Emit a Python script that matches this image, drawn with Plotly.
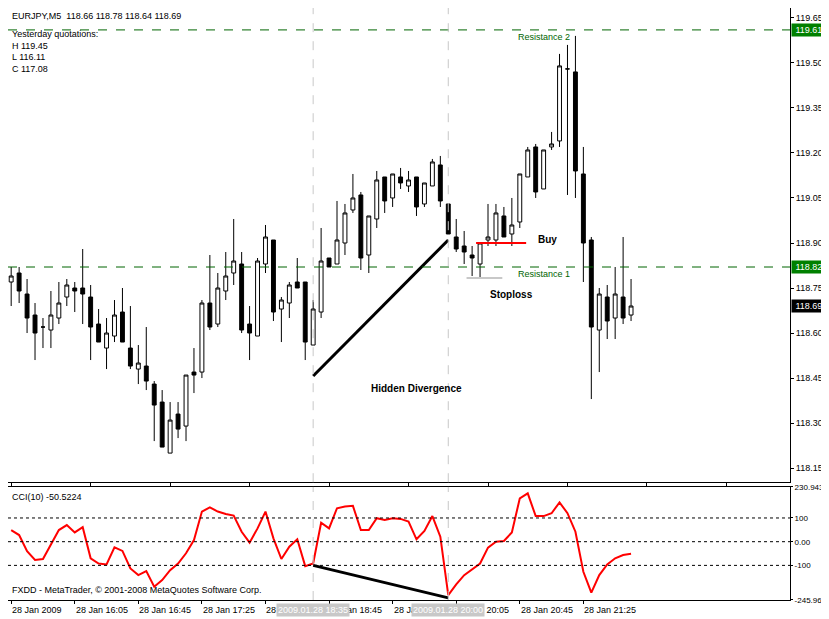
import plotly.graph_objects as go

# EURJPY M5 bars, 15:25 .. 21:55 on 28 Jan 2009
opens = [118.77, 118.80, 118.73, 118.66, 118.62, 118.61, 118.65, 118.72, 118.75, 118.75,
         118.72, 118.63, 118.55, 118.59, 118.67, 118.55, 118.48, 118.49, 118.43, 118.37,
         118.20, 118.33, 118.29, 118.47, 118.47, 118.70, 118.63, 118.74, 118.80, 118.83,
         118.63, 118.59, 118.83, 118.91, 118.68, 118.70, 118.77, 118.77, 118.56, 118.67,
         118.85, 118.83, 118.90, 119.01, 119.06, 118.86, 118.98, 119.12, 119.05, 119.12,
         119.09, 119.12, 119.03, 119.09, 119.16, 119.03, 118.92, 118.89, 118.86, 118.83,
         118.91, 118.91, 118.99, 118.93, 118.97, 119.12, 119.22, 119.08, 119.22, 119.24,
         119.48, 119.47, 119.13, 118.91, 118.61, 118.72, 118.65, 118.72, 118.66]
highs = [118.82, 118.82, 118.78, 118.70, 118.65, 118.74, 118.77, 118.78, 118.77, 118.88,
         118.76, 118.68, 118.65, 118.71, 118.75, 118.69, 118.56, 118.62, 118.44, 118.41,
         118.37, 118.37, 118.46, 118.55, 118.71, 118.86, 118.80, 118.87, 118.98, 118.87,
         118.69, 118.85, 118.96, 118.91, 118.72, 118.77, 118.85, 118.77, 118.71, 118.95,
         118.85, 119.04, 119.03, 119.13, 119.07, 118.99, 119.14, 119.12, 119.13, 119.15,
         119.14, 119.12, 119.10, 119.18, 119.19, 119.03, 118.98, 118.94, 118.89, 118.90,
         119.03, 119.03, 119.02, 119.05, 119.13, 119.22, 119.23, 119.21, 119.27, 119.53,
         119.56, 119.59, 119.22, 118.92, 118.75, 118.76, 118.82, 118.92, 118.78]
lows = [118.69, 118.70, 118.60, 118.51, 118.55, 118.55, 118.63, 118.69, 118.67, 118.63,
        118.51, 118.57, 118.48, 118.57, 118.57, 118.48, 118.43, 118.41, 118.24, 118.22,
        118.20, 118.25, 118.24, 118.40, 118.45, 118.61, 118.62, 118.71, 118.76, 118.60,
        118.51, 118.59, 118.80, 118.64, 118.57, 118.65, 118.75, 118.51, 118.56, 118.65,
        118.82, 118.83, 118.86, 119.00, 118.81, 118.80, 118.95, 119.00, 119.02, 119.08,
        119.07, 118.99, 119.02, 119.09, 119.02, 118.93, 118.87, 118.83, 118.79, 118.78,
        118.89, 118.89, 118.92, 118.89, 118.95, 119.12, 119.05, 119.08, 119.21, 119.22,
        119.06, 119.05, 118.77, 118.38, 118.47, 118.58, 118.58, 118.63, 118.64]
closes = [118.79, 118.74, 118.65, 118.60, 118.62, 118.66, 118.70, 118.76, 118.74, 118.73,
          118.62, 118.57, 118.60, 118.66, 118.57, 118.49, 118.50, 118.44, 118.36, 118.22,
          118.31, 118.28, 118.46, 118.46, 118.70, 118.62, 118.75, 118.79, 118.84, 118.61,
          118.60, 118.84, 118.92, 118.67, 118.71, 118.76, 118.75, 118.57, 118.68, 118.84,
          118.82, 118.91, 119.00, 119.05, 118.85, 118.99, 119.11, 119.04, 119.13, 119.10,
          119.11, 119.02, 119.10, 119.17, 119.04, 118.93, 118.88, 118.87, 118.85, 118.90,
          118.92, 119.00, 118.92, 118.96, 119.13, 119.21, 119.07, 119.21, 119.23, 119.49,
          119.48, 119.14, 118.90, 118.62, 118.73, 118.64, 118.73, 118.65, 118.69]

cci = [49, 28, -40, -77, -73, -14, 49, 70, 39, 61,
       -70, -92, -96, -24, -39, -113, -141, -124, -190, -162,
       -120, -92, -49, 7, 127, 145, 127, 117, 110, 42,
       -4, 56, 127, 14, -73, -21, 10, -103, -92, 80,
       56, 141, 148, 151, 49, 49, 99, 92, 99, 96,
       85, 10, 45, 108, 21, -225, -180, -141, -115, -92,
       -25, 0, 3, 39, 183, 204, 108, 108, 120, 166,
       120, 42, -127, -215, -141, -96, -70, -56, -51]

tick_bars = [0, 8, 16, 24, 32, 40, 48, 56, 64, 72]
tick_text = ['28 Jan 2009', '28 Jan 16:05', '28 Jan 16:45', '28 Jan 17:25', '28 Jan 18:05',
             '28 Jan 18:45', '28 Jan 19:25', '28 Jan 20:05', '28 Jan 20:45', '28 Jan 21:25']
price_ticks = [118.15, 118.30, 118.45, 118.60, 118.75, 118.90, 119.05, 119.20, 119.35, 119.50, 119.65]
cci_ticks = [230.943, 100, 0, -100, -245.965]
cci_tick_text = ['230.943', '100', '0.00', '-100', '-245.965']

res1, res2 = 118.82, 119.61
bars = list(range(len(closes)))
font = dict(family='Liberation Sans', size=9, color='black')

fig = go.Figure()
fig.add_trace(go.Candlestick(
    x=bars, open=opens, high=highs, low=lows, close=closes,
    increasing=dict(fillcolor='white', line=dict(color='black', width=1)),
    decreasing=dict(fillcolor='black', line=dict(color='black', width=1)),
    whiskerwidth=0, showlegend=False, hoverinfo='skip'))

# resistance levels
for lvl in (res1, res2):
    fig.add_shape(type='line', xref='x domain', yref='y', x0=0, x1=1, y0=lvl, y1=lvl,
                  line=dict(color='#006400', width=1, dash='dash'))
# vertical markers
for b in (38, 55):
    for ya in ('y', 'y2'):
        fig.add_shape(type='line', xref='x', yref=ya + ' domain', x0=b, x1=b, y0=0, y1=1,
                      line=dict(color='#c8c8c8', width=1, dash='dash'))

# hidden divergence, buy and stoploss lines
fig.add_trace(go.Scatter(x=[38, 55], y=[118.457, 118.91], mode='lines',
                         line=dict(color='black', width=3), showlegend=False, hoverinfo='skip'))
fig.add_trace(go.Scatter(x=[58.5, 64.8], y=[118.90, 118.90], mode='lines',
                         line=dict(color='red', width=2), showlegend=False, hoverinfo='skip'))
fig.add_trace(go.Scatter(x=[57.3, 61.8], y=[118.783, 118.783], mode='lines',
                         line=dict(color='#c8c8c8', width=2), showlegend=False, hoverinfo='skip'))

fig.add_trace(go.Scatter(x=bars, y=cci, mode='lines', line=dict(color='red', width=2),
                         xaxis='x2', yaxis='y2', showlegend=False, hoverinfo='skip'))
fig.add_trace(go.Scatter(x=[38, 55], y=[-100, -237], mode='lines', line=dict(color='black', width=3),
                         xaxis='x2', yaxis='y2', showlegend=False, hoverinfo='skip'))
for lvl in (100, 0, -100):
    fig.add_shape(type='line', xref='x2 domain', yref='y2', x0=0, x1=1, y0=lvl, y1=lvl,
                  line=dict(color='black', width=1, dash='dot'))

ann = [
    dict(x=0.003, y=1.0, xref='paper', yref='paper', text='EURJPY,M5  118.66 118.78 118.64 118.69',
         xanchor='left', yanchor='top', yshift=-1),
    dict(x=0.003, y=0.968, xref='paper', yref='paper',
         text='Yesterday quotations:<br>H 119.45<br>L 116.11<br>C 117.08',
         xanchor='left', yanchor='top', align='left'),
    dict(x=67, y=res2, xref='x', yref='y', text='Resistance 2', font=dict(color='#006400', size=9, family='Liberation Sans'),
         yanchor='top'),
    dict(x=67, y=res1, xref='x', yref='y', text='Resistance 1', font=dict(color='#006400', size=9, family='Liberation Sans'),
         yanchor='top'),
    dict(x=51, y=118.44, xref='x', yref='y', text='<b>Hidden Divergence</b>', yanchor='top',
         font=dict(size=10, family='Liberation Sans', color='black')),
    dict(x=66, y=118.91, xref='x', yref='y', text='<b>Buy</b>', xanchor='left',
         font=dict(size=10, family='Liberation Sans', color='black')),
    dict(x=63, y=118.73, xref='x', yref='y', text='<b>Stoploss</b>',
         font=dict(size=10, family='Liberation Sans', color='black')),
    dict(x=1, y=res2, xref='paper', yref='y', text=' 119.61 ', bgcolor='#008000',
         font=dict(color='white', size=9, family='Liberation Sans'), xanchor='left', xshift=1),
    dict(x=1, y=res1, xref='paper', yref='y', text=' 118.82 ', bgcolor='#008000',
         font=dict(color='white', size=9, family='Liberation Sans'), xanchor='left', xshift=1),
    dict(x=1, y=closes[-1], xref='paper', yref='y', text=' 118.69 ', bgcolor='black',
         font=dict(color='white', size=9, family='Liberation Sans'), xanchor='left', xshift=1),
    dict(x=0.003, y=0.191, xref='paper', yref='paper', text='CCI(10) -50.5224',
         xanchor='left', yanchor='top', yshift=-3),
    dict(x=0.003, y=0.0, xref='paper', yref='paper',
         text='FXDD - MetaTrader, © 2001-2008 MetaQuotes Software Corp.',
         xanchor='left', yanchor='bottom', yshift=3),
]
for b, t in zip(tick_bars, tick_text):
    ann.append(dict(x=b, y=0, xref='x2', yref='paper', text=t, xanchor='left', yanchor='top',
                    yshift=-3, xshift=-1))
for b, t in ((38, '2009.01.28 18:35'), (55, '2009.01.28 20:00')):
    ann.append(dict(x=b, y=0, xref='x2', yref='paper', text=t, bgcolor='#c8c8c8',
                    font=dict(color='white', size=9, family='Liberation Sans'),
                    xanchor='center', yanchor='top', yshift=-3))
for a in ann:
    a.setdefault('showarrow', False)
    a.setdefault('font', font)

axis_common = dict(showline=True, linecolor='black', linewidth=1, mirror=True, automargin=False,
                   showgrid=False, zeroline=False, ticks='outside', ticklen=3, tickcolor='black')

# the page puts the figure 8px in from the corner, so the size is trimmed to fit
fig.update_layout(
    width=821, height=611, autosize=False,
    margin=dict(l=0, r=39, t=0, b=19),
    paper_bgcolor='white', plot_bgcolor='white',
    font=font,
    xaxis=dict(range=[-0.4, 98.0], domain=[0, 1], anchor='y', showticklabels=False,
               rangeslider=dict(visible=False), **axis_common),
    yaxis=dict(domain=[0.199, 1], range=[118.103, 119.683], side='right', tickvals=price_ticks,
               ticktext=['%.2f' % v for v in price_ticks], **axis_common),
    xaxis2=dict(range=[-0.4, 98.0], domain=[0, 1], anchor='y2', tickvals=tick_bars,
                showticklabels=False, **axis_common),
    yaxis2=dict(domain=[0, 0.191], range=[-245.965, 230.943], side='right', anchor='x2',
                tickvals=cci_ticks, ticktext=cci_tick_text, tickfont=dict(size=8),
                ticklen=2, **{k: v for k, v in axis_common.items() if k != 'ticklen'}),
    annotations=ann,
)

fig.write_html('out.html')
